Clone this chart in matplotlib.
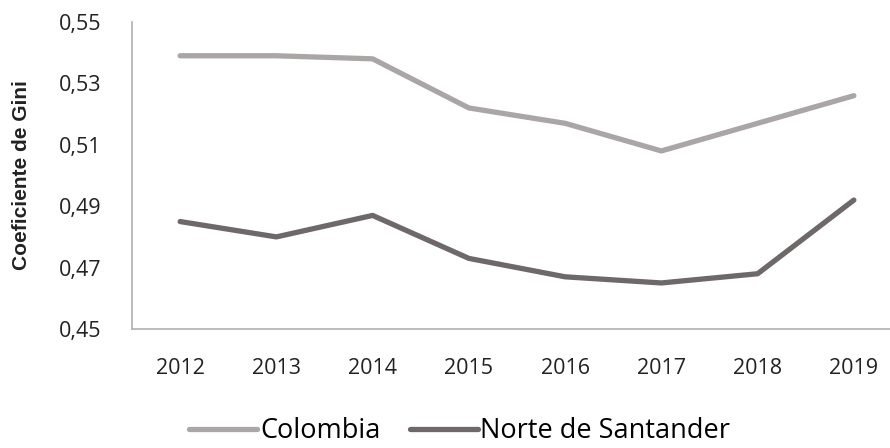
import matplotlib.pyplot as plt
from matplotlib.ticker import FuncFormatter

years = ["2012", "2013", "2014", "2015", "2016", "2017", "2018", "2019"]
colombia = [0.539, 0.539, 0.538, 0.522, 0.517, 0.508, 0.517, 0.526]
norte = [0.485, 0.480, 0.487, 0.473, 0.467, 0.465, 0.468, 0.492]
yticks = [0.45, 0.47, 0.49, 0.51, 0.53, 0.55]

plt.rcParams['font.family'] = ['Open Sans', 'DejaVu Sans']

fig = plt.figure(figsize=(8.9, 4.48), dpi=100)
ax = fig.add_axes([132 / 890, 1 - 329 / 448, 770 / 890, 307 / 448])

x = list(range(len(years)))
ax.plot(x, colombia, color="#aaa6a6", lw=3.8, solid_capstyle="round",
        solid_joinstyle="round", label="Colombia")
ax.plot(x, norte, color="#6e6869", lw=3.8, solid_capstyle="round",
        solid_joinstyle="round", label="Norte de Santander")

ax.set_xlim(-0.5, 7.5)
ax.set_ylim(0.45, 0.55)
ax.set_yticks(yticks)
ax.yaxis.set_major_formatter(FuncFormatter(lambda v, p: f"{v:.2f}".replace(".", ",")))
ax.set_xticks(x)
ax.set_xticklabels(years)
ax.tick_params(axis="both", length=0, labelsize=15.5, colors="#222222")
ax.tick_params(axis="x", pad=21)
ax.tick_params(axis="y", pad=22)

for s in ["top", "right"]:
    ax.spines[s].set_visible(False)
for s in ["left", "bottom"]:
    ax.spines[s].set_color("#b0b0b0")
    ax.spines[s].set_linewidth(1.2)

fig.text(22 / 890, 1 - 175 / 448, "Coeficiente de Gini", rotation=90,
         ha="center", va="center", fontsize=15, fontweight="bold",
         family=["Liberation Sans", "DejaVu Sans"], color="#222222")

fig.legend(loc="center", bbox_to_anchor=(460 / 890, 1 - 431 / 448), ncol=2,
           frameon=False, fontsize=19.5, handlelength=2.5, handletextpad=0.1,
           columnspacing=1.1)

fig.savefig("out.png", dpi=100)
